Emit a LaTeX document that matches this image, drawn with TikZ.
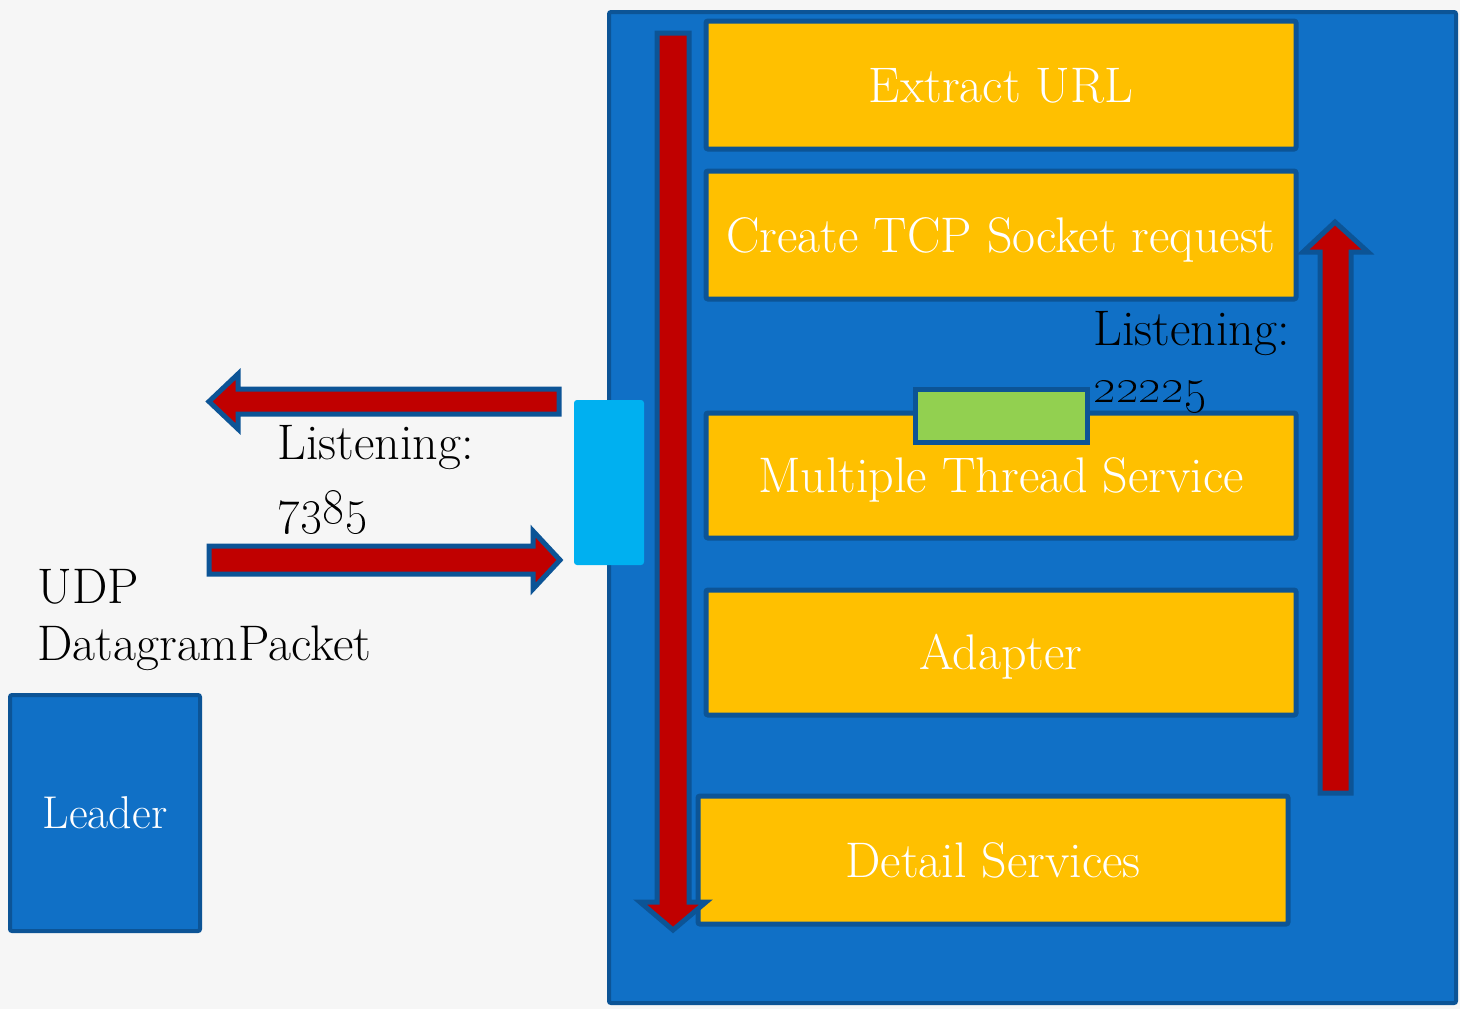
\documentclass[tikz,border=0pt]{standalone}
\usepackage{xcolor}
\definecolor{bgcol}{RGB}{246,246,246}
\definecolor{mainblue}{RGB}{16,112,198}
\definecolor{edgeblue}{RGB}{12,84,150}
\definecolor{boxyellow}{RGB}{255,192,0}
\definecolor{arrowred}{RGB}{192,0,0}
\definecolor{portgreen}{RGB}{146,208,80}
\definecolor{portcyan}{RGB}{0,176,240}
\begin{document}
\begin{tikzpicture}[x=0.5pt,y=-0.5pt,
  txt/.style={font=\fontsize{25}{30}\selectfont, inner sep=0pt},
  ltxt/.style={txt, anchor=base west, text=black},
  ybox/.style={txt, text=white, fill=boxyellow, draw=edgeblue, line width=2.5pt,
     rounded corners=1pt, minimum width=295pt, text height=17pt, text depth=0pt},
  bbox/.style={fill=mainblue, draw=edgeblue, line width=2pt, rounded corners=1pt},
  blockarrow/.style={fill=arrowred, draw=edgeblue, line width=2.5pt, line join=miter},
]
\fill[bgcol] (0,0) rectangle (1460,1009);
\useasboundingbox (0,0) rectangle (1460,1009);

% main container
\node[bbox, minimum width=423.5pt, minimum height=495.5pt, inner sep=0pt] (server) at (1032.5,507.5) {};

% process boxes
\node[ybox, minimum height=64pt] (extract) at (1001,85) {Extract URL};
\node[ybox, minimum height=64pt] (create) at (1001,235) {Create TCP Socket request};
\node[ybox, minimum height=62.5pt] (multi) at (1001,475.5) {Multiple Thread Service};
\node[ybox, minimum height=62.5pt] (adapter) at (1001,652.5) {Adapter};
\node[ybox, minimum height=64pt] (detail) at (993,860) {Detail Services};

% ports
\node[fill=portgreen, draw=edgeblue, line width=2.5pt, minimum width=86pt, minimum height=26.5pt, inner sep=0pt] (tcpport) at (1001,415.5) {};
\node[fill=portcyan, rounded corners=1.5pt, minimum width=35pt, minimum height=82.5pt, inner sep=0pt] (udpport) at (609,482.5) {};

% leader
\node[bbox, txt, font=\fontsize{23}{28}\selectfont, text=white, minimum width=95pt, minimum height=118pt, text height=15.6pt, text depth=0pt] (leader) at (105,813) {Leader};

% block arrows
\draw[blockarrow] (657,33) -- (689,33) -- (689,902) -- (706,902) -- (673,930) -- (640,902) -- (657,902) -- cycle;
\draw[blockarrow] (1320,793) -- (1351,793) -- (1351,252) -- (1368,252) -- (1335,222) -- (1303,252) -- (1320,252) -- cycle;
\draw[blockarrow] (559,389) -- (559,414) -- (238,414) -- (238,429) -- (209,401.5) -- (238,374) -- (238,389) -- cycle;
\draw[blockarrow] (209,546) -- (533,546) -- (533,531) -- (560,560) -- (533,589) -- (533,574) -- (209,574) -- cycle;

% labels
\node[ltxt] (lis1) at (277,459) {Listening:};
\node[ltxt] (port1) at (277,523) {\oldstylenums{7385}};
\node[ltxt] (udp) at (37,603) {UDP};
\node[ltxt] (dgram) at (37,660) {DatagramPacket};
\node[ltxt] (lis2) at (1093,345) {Listening:};
\node[ltxt] (port2) at (1093,402) {\oldstylenums{22225}};
\end{tikzpicture}
\end{document}
